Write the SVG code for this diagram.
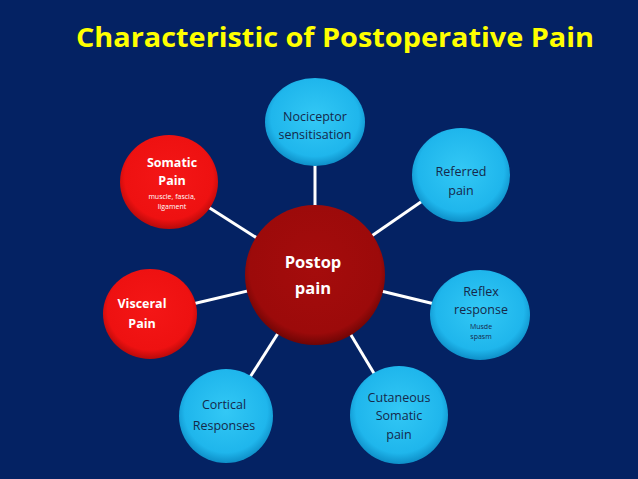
<svg xmlns="http://www.w3.org/2000/svg" width="638" height="479" viewBox="0 0 638 479">
<defs>
<radialGradient id="cy" cx="50%" cy="45%" r="55%">
<stop offset="0" stop-color="#33c8f5"/><stop offset="0.8" stop-color="#1fb6ec"/><stop offset="1" stop-color="#0e8fc8"/>
</radialGradient>
<radialGradient id="rd" cx="50%" cy="45%" r="55%">
<stop offset="0" stop-color="#f41616"/><stop offset="0.82" stop-color="#ee1111"/><stop offset="1" stop-color="#b80a0a"/>
</radialGradient>
<radialGradient id="ctr" cx="50%" cy="45%" r="55%">
<stop offset="0" stop-color="#a50c0c"/><stop offset="0.85" stop-color="#9c0a0a"/><stop offset="1" stop-color="#6e0505"/>
</radialGradient>
<style>
.cy{fill:url(#cy)}
.rd{fill:url(#rd)}
.t{font-family:"Open Sans","Liberation Sans",sans-serif;text-anchor:middle}
.dk{fill:#15284a;font-size:12.5px}
.wh{fill:#ffffff;font-weight:bold;font-size:12.5px}
.big{font-size:16.5px}
.sm{font-size:7px;font-weight:normal}
.ln{stroke:#ffffff;stroke-width:3}
</style>
</defs>
<rect width="638" height="479" fill="#042263"/>
<text x="335" y="47" class="t" fill="#ffff00" font-weight="bold" font-size="26" textLength="518" lengthAdjust="spacingAndGlyphs">Characteristic of Postoperative Pain</text>
<g id="connectors">
<line class="ln" x1="315" y1="275" x2="315" y2="122"/>
<line class="ln" x1="315" y1="275" x2="460" y2="175"/>
<line class="ln" x1="315" y1="275" x2="480" y2="315"/>
<line class="ln" x1="315" y1="275" x2="399" y2="415"/>
<line class="ln" x1="315" y1="275" x2="226" y2="415"/>
<line class="ln" x1="315" y1="275" x2="150" y2="314"/>
<line class="ln" x1="315" y1="275" x2="169" y2="182"/>
</g>
<g id="center">
<circle cx="315" cy="275" r="70" fill="url(#ctr)"/>
<text x="313" y="268" class="t wh big">Postop</text>
<text x="313" y="294" class="t wh big">pain</text>
</g>
<g id="nociceptor">
<ellipse cx="315" cy="122" rx="50" ry="44" class="cy"/>
<text x="315" y="121" class="t dk">Nociceptor</text>
<text x="315" y="139" class="t dk">sensitisation</text>
</g>
<g id="referred">
<ellipse cx="461" cy="175" rx="49" ry="47" class="cy"/>
<text x="461" y="176" class="t dk">Referred</text>
<text x="461" y="195" class="t dk">pain</text>
</g>
<g id="reflex">
<ellipse cx="480" cy="315" rx="50" ry="45" class="cy"/>
<text x="481" y="296" class="t dk">Reflex</text>
<text x="481" y="314" class="t dk">response</text>
<text x="481" y="329" class="t dk sm">Musde</text>
<text x="481" y="339" class="t dk sm">spasm</text>
</g>
<g id="cutaneous">
<ellipse cx="399" cy="415" rx="49" ry="49" class="cy"/>
<text x="399" y="402" class="t dk">Cutaneous</text>
<text x="399" y="420" class="t dk">Somatic</text>
<text x="399" y="439" class="t dk">pain</text>
</g>
<g id="cortical">
<ellipse cx="226" cy="416" rx="47" ry="47" class="cy"/>
<text x="224" y="409" class="t dk">Cortical</text>
<text x="224" y="430" class="t dk">Responses</text>
</g>
<g id="visceral">
<ellipse cx="150" cy="314" rx="47" ry="45" class="rd"/>
<text x="142" y="308" class="t wh">Visceral</text>
<text x="142" y="328" class="t wh">Pain</text>
</g>
<g id="somatic">
<ellipse cx="169" cy="182" rx="49" ry="47" class="rd"/>
<text x="172" y="167" class="t wh">Somatic</text>
<text x="172" y="185" class="t wh">Pain</text>
<text x="172" y="199" class="t wh sm">muscle, fascia,</text>
<text x="172" y="209" class="t wh sm">ligament</text>
</g>
</svg>
